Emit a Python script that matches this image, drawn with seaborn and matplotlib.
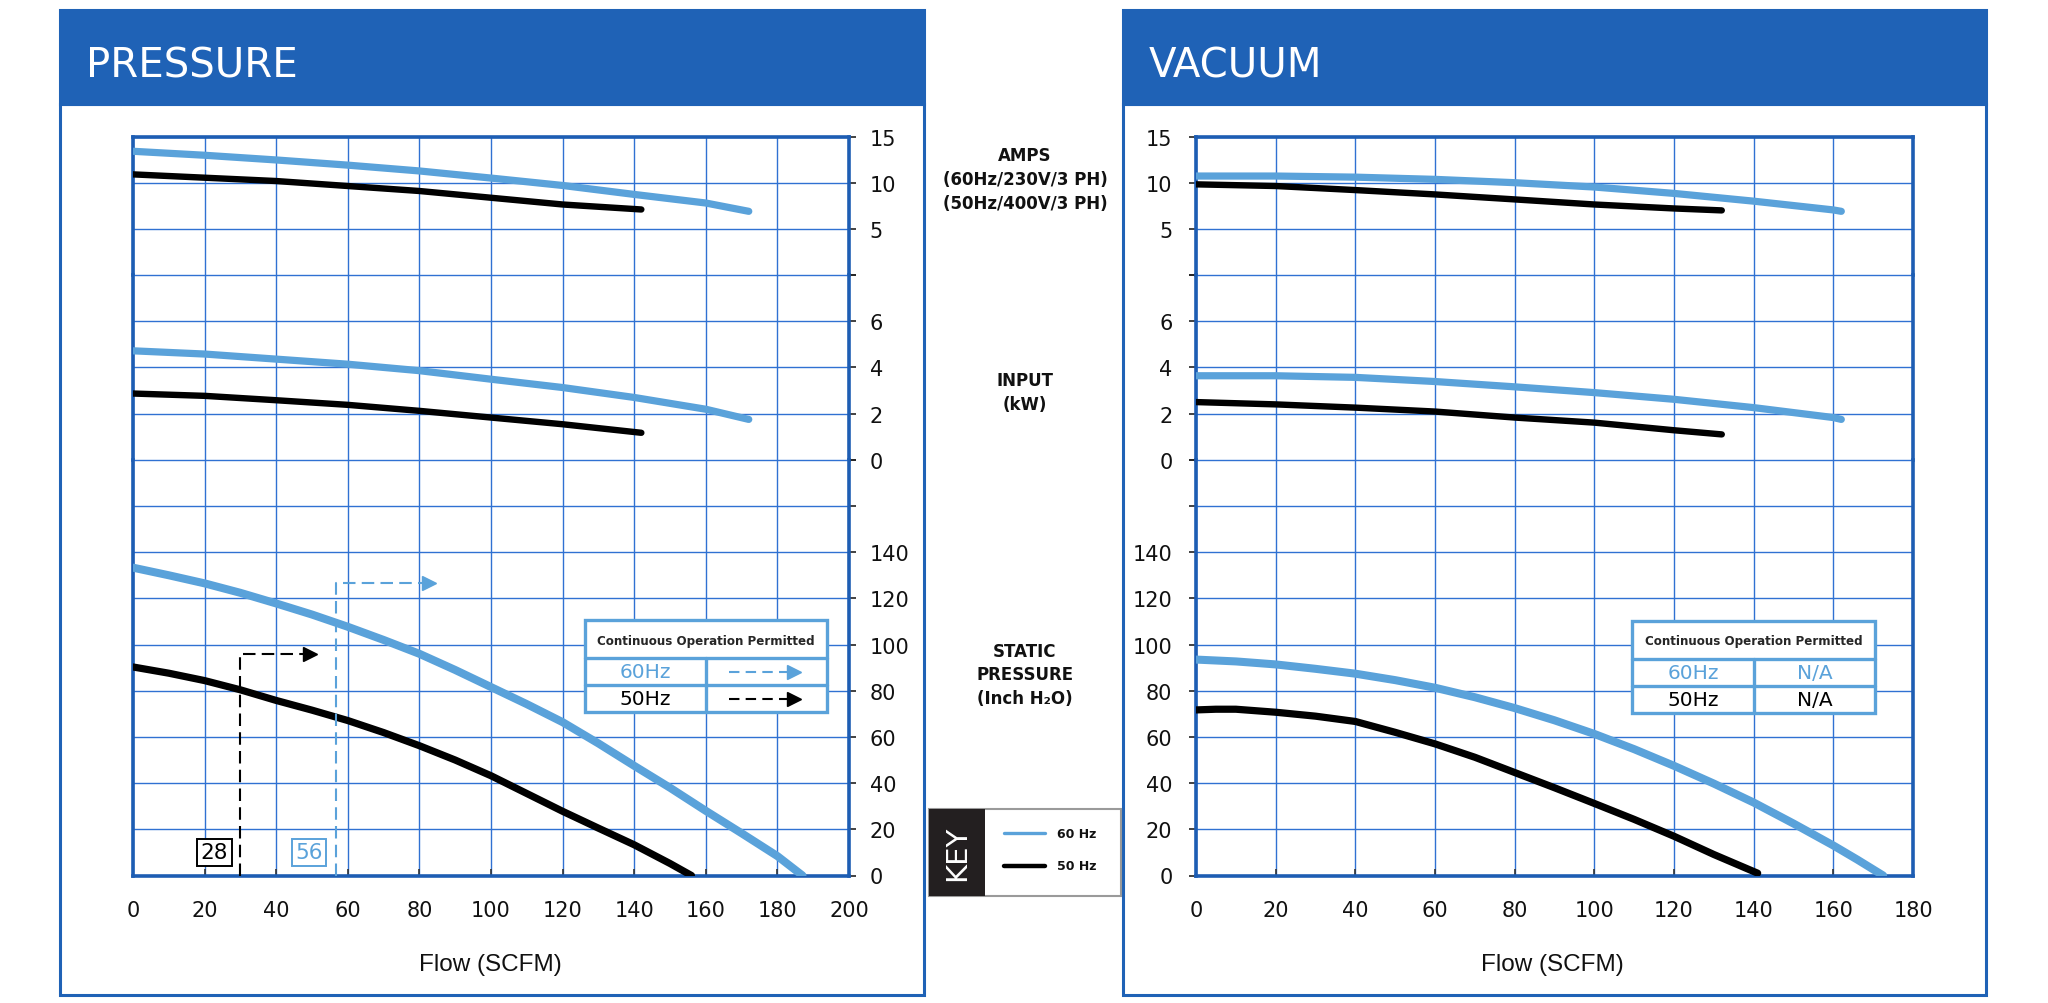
import matplotlib
matplotlib.use("Agg")
import matplotlib.pyplot as plt
import seaborn as sns
from matplotlib.patches import Rectangle
from matplotlib.lines import Line2D

# ---------------- data ----------------
# PRESSURE panel, flow in SCFM
pr_amps60_x = [0, 20, 40, 60, 80, 100, 120, 140, 160, 172]
pr_amps60_y = [13.4, 12.97, 12.46, 11.9, 11.27, 10.5, 9.7, 8.73, 7.8, 6.9]
pr_amps50_x = [0, 20, 40, 60, 80, 100, 120, 142]
pr_amps50_y = [10.9, 10.54, 10.18, 9.64, 9.1, 8.37, 7.64, 7.1]
pr_kw60_x = [0, 20, 40, 60, 80, 100, 120, 140, 160, 172]
pr_kw60_y = [4.72, 4.58, 4.36, 4.14, 3.86, 3.49, 3.13, 2.7, 2.19, 1.75]
pr_kw50_x = [0, 20, 40, 60, 80, 100, 120, 142]
pr_kw50_y = [2.87, 2.77, 2.58, 2.38, 2.12, 1.83, 1.54, 1.17]
pr_sp60_x = [0, 10, 20, 30, 40, 50, 60, 70, 80, 90, 100, 110, 120, 130,
             140, 150, 160, 170, 180, 187]
pr_sp60_y = [133.3, 130, 126.5, 122.4, 117.8, 113, 107.7, 102, 96, 89,
             81.6, 74.2, 66.4, 57.2, 47.5, 38, 28, 18.3, 8.4, 0]
pr_sp50_x = [0, 10, 20, 30, 40, 50, 60, 70, 80, 90, 100, 110, 120, 130,
             140, 150, 156]
pr_sp50_y = [90.3, 87.6, 84.4, 80.4, 75.8, 71.6, 67.1, 61.9, 56.2, 50, 43.2,
             35.5, 27.8, 20.5, 13.3, 5.2, 0]

# continuous-operation limits (pressure panel)
cont_labels = ["28", "56"]
cont_label_x = [22.8, 49.2]
cont_x = [30, 56.7]
cont_top = [96, 126.5]
cont_tip = [51, 84.3]

# VACUUM panel
vac_amps60_x = [0, 20, 40, 60, 80, 100, 120, 140, 160, 162]
vac_amps60_y = [10.72, 10.72, 10.6, 10.36, 10.0, 9.53, 8.84, 8.0, 7.05, 6.9]
vac_amps50_x = [0, 20, 40, 60, 80, 100, 120, 132]
vac_amps50_y = [9.82, 9.64, 9.2, 8.73, 8.19, 7.64, 7.21, 7.0]
vac_kw60_x = [0, 20, 40, 60, 80, 100, 120, 140, 160, 162]
vac_kw60_y = [3.64, 3.64, 3.57, 3.39, 3.16, 2.91, 2.62, 2.26, 1.83, 1.75]
vac_kw50_x = [0, 20, 40, 60, 80, 100, 120, 132]
vac_kw50_y = [2.5, 2.4, 2.26, 2.09, 1.83, 1.61, 1.28, 1.1]
vac_sp60_x = [0, 10, 20, 30, 40, 50, 60, 70, 80, 90, 100, 110, 120, 130,
              140, 150, 160, 166, 172.5]
vac_sp60_y = [93.5, 92.7, 91.4, 89.5, 87.4, 84.6, 81.3, 77.2, 72.5, 67.2,
              61.3, 54.7, 47.5, 39.8, 31.6, 22.5, 13, 6.9, 0]
vac_sp50_x = [0, 5, 10, 20, 30, 40, 50, 60, 70, 80, 90, 100, 110, 120, 130,
              141]
vac_sp50_y = [71.7, 72, 72, 70.7, 69, 66.7, 62, 57, 51.2, 44.6, 38, 31.2,
              24.3, 17, 9.1, 1]

amps_ticks = [0, 5, 10, 15]
amps_labels = ["", "5", "10", "15"]
kw_ticks = [0, 2, 4, 6, 8]
kw_labels = ["0", "2", "4", "6", ""]
sp_ticks = [0, 20, 40, 60, 80, 100, 120, 140, 160, 180]
sp_labels = ["0", "20", "40", "60", "80", "100", "120", "140", "", ""]

# ---------------- style ----------------
sns.set_theme(style="white")
plt.rcParams["font.family"] = ["DejaVu Sans"]

HEAD = "#1F62B6"
FRAME = "#1D5DB3"
GRID = "#3071D2"
LBLUE = "#5AA2DA"
BLACK = "#000000"

W, H = 2048, 1004
fig = plt.figure(figsize=(W / 100, H / 100), dpi=100)
fig.patch.set_facecolor("white")


def fx(px):
    return px / W


def fy(py):
    return 1 - py / H


def rect_px(x0, y0, x1, y1, **kw):
    r = Rectangle((fx(x0), fy(y1)), (x1 - x0) / W, (y1 - y0) / H,
                  transform=fig.transFigure, **kw)
    fig.add_artist(r)
    return r


def add_axes_px(x0, y0, x1, y1):
    return fig.add_axes([fx(x0), fy(y1), (x1 - x0) / W, (y1 - y0) / H])


# panel frames and headers
for (x0, x1, title) in [(60, 924, "PRESSURE"), (1123, 1986, "VACUUM")]:
    rect_px(x0, 105, x1, 996, fill=False, edgecolor=HEAD, lw=2.2, zorder=0)
    rect_px(x0, 11, x1, 105, facecolor=HEAD, edgecolor=HEAD, lw=2.2, zorder=0)
    fig.text(fx(x0 + 26), fy(77), title, color="white", fontsize=29,
             ha="left", va="baseline")

TOP, BOT = 137.5, 876.5
U = (BOT - TOP) / 16
Y_AMPS = (TOP, TOP + 3 * U)
Y_KW = (TOP + 3 * U, TOP + 7 * U)
Y_SP = (TOP + 7 * U, BOT)


def style_axes(ax, xmax, ticks, labels, side, kind):
    ax.set_xlim(0, xmax)
    ax.set_xticks(list(range(0, xmax + 1, 20)))
    ax.set_ylim(ticks[0], ticks[-1])
    ax.set_yticks(ticks)
    ax.set_yticklabels(labels)
    ax.set_xlabel("")
    ax.set_ylabel("")
    ax.grid(True, color=GRID, lw=1.0)
    ax.set_axisbelow(True)
    ax.set_facecolor("white")
    for s in ["left", "right"]:
        ax.spines[s].set_visible(True)
        ax.spines[s].set_color(FRAME)
        ax.spines[s].set_linewidth(2.6)
    ax.spines["top"].set_visible(kind == "amps")
    ax.spines["bottom"].set_visible(kind == "sp")
    ax.spines["top"].set_color(FRAME)
    ax.spines["top"].set_linewidth(2.6)
    ax.spines["bottom"].set_color(FRAME)
    ax.spines["bottom"].set_linewidth(2.6)
    if side == "right":
        ax.tick_params(axis="y", left=False, right=True, labelleft=False,
                       labelright=True, length=5, width=1.2, color="#222222",
                       pad=10, labelsize=15, labelcolor="#111111")
    else:
        ax.tick_params(axis="y", left=True, right=False, labelleft=True,
                       labelright=False, length=5, width=1.2, color="#222222",
                       pad=12, labelsize=15, labelcolor="#111111")
    if kind == "sp":
        ax.tick_params(axis="x", bottom=True, labelbottom=True, direction="in",
                       length=5, width=1.2, color="#333333", pad=18,
                       labelsize=15, labelcolor="#111111")
    else:
        ax.tick_params(axis="x", bottom=False, labelbottom=False)


def curve(ax, x, y, color, lw):
    sns.lineplot(x=x, y=y, ax=ax, color=color, lw=lw,
                 solid_capstyle="round", solid_joinstyle="round", zorder=3)


panels = [
    dict(x0=133, x1=849, xmax=200, side="right",
         amps=[(pr_amps60_x, pr_amps60_y), (pr_amps50_x, pr_amps50_y)],
         kw=[(pr_kw60_x, pr_kw60_y), (pr_kw50_x, pr_kw50_y)],
         sp=[(pr_sp60_x, pr_sp60_y), (pr_sp50_x, pr_sp50_y)],
         xlabel_x=490),
    dict(x0=1196, x1=1913, xmax=180, side="left",
         amps=[(vac_amps60_x, vac_amps60_y), (vac_amps50_x, vac_amps50_y)],
         kw=[(vac_kw60_x, vac_kw60_y), (vac_kw50_x, vac_kw50_y)],
         sp=[(vac_sp60_x, vac_sp60_y), (vac_sp50_x, vac_sp50_y)],
         xlabel_x=1552),
]

sp_axes = []
for p in panels:
    ax_a = add_axes_px(p["x0"], Y_AMPS[0], p["x1"], Y_AMPS[1])
    ax_k = add_axes_px(p["x0"], Y_KW[0], p["x1"], Y_KW[1])
    ax_s = add_axes_px(p["x0"], Y_SP[0], p["x1"], Y_SP[1])
    (x60, y60), (x50, y50) = p["amps"]
    curve(ax_a, x60, y60, LBLUE, 5.2)
    curve(ax_a, x50, y50, BLACK, 4.6)
    (x60, y60), (x50, y50) = p["kw"]
    curve(ax_k, x60, y60, LBLUE, 5.2)
    curve(ax_k, x50, y50, BLACK, 4.6)
    (x60, y60), (x50, y50) = p["sp"]
    curve(ax_s, x60, y60, LBLUE, 5.8)
    curve(ax_s, x50, y50, BLACK, 5.2)
    style_axes(ax_a, p["xmax"], amps_ticks, amps_labels, p["side"], "amps")
    style_axes(ax_k, p["xmax"], kw_ticks, kw_labels, p["side"], "kw")
    style_axes(ax_s, p["xmax"], sp_ticks, sp_labels, p["side"], "sp")
    fig.text(fx(p["xlabel_x"]), fy(965), "Flow (SCFM)", fontsize=17.5,
             ha="center", va="center", color="#111111",
             family=["Liberation Sans", "DejaVu Sans"])
    sp_axes.append(ax_s)

# dashed continuous-operation arrows on the pressure panel
ax_s = sp_axes[0]
for lab, lx, xv, top, tip, col in zip(cont_labels, cont_label_x, cont_x,
                                      cont_top, cont_tip, [BLACK, LBLUE]):
    ax_s.plot([xv, xv, tip - 2.5], [0, top, top], color=col, lw=1.5,
              dashes=(6, 3), zorder=4)
    ax_s.plot([tip - 1.6], [top], marker=">", ms=10, color=col,
              mec=col, zorder=4)
    ax_s.text(lx, 10, lab, ha="center", va="center", fontsize=15.5, color=col,
              zorder=5,
              bbox=dict(boxstyle="square,pad=0.16", fc="white", ec=col, lw=1.4))


# continuous operation tables
def draw_table(x0, x1, xs, y0, yt, ym, y1, right_cells):
    rect_px(x0, y0, x1, y1, facecolor="white", edgecolor=LBLUE, lw=2.4,
            zorder=5)
    for yy in (yt, ym):
        fig.add_artist(Line2D([fx(x0), fx(x1)], [fy(yy), fy(yy)],
                              transform=fig.transFigure, color=LBLUE,
                              lw=2.4, zorder=6))
    fig.add_artist(Line2D([fx(xs), fx(xs)], [fy(yt), fy(y1)],
                          transform=fig.transFigure, color=LBLUE, lw=2.4,
                          zorder=6))
    fig.text(fx((x0 + x1) / 2), fy((y0 + yt) / 2 + 1),
             "Continuous Operation Permitted", fontsize=8.6,
             fontweight="bold", ha="center", va="center", zorder=7)
    rows = [("60Hz", LBLUE, (yt + ym) / 2), ("50Hz", BLACK, (ym + y1) / 2)]
    for (lab, col, yc), cell in zip(rows, right_cells):
        fig.text(fx((x0 + xs) / 2), fy(yc), lab, fontsize=14.5, color=col,
                 ha="center", va="center", zorder=7)
        if cell == "arrow":
            fig.add_artist(Line2D([fx(xs + 23), fx(xs + 82)],
                                  [fy(yc), fy(yc)], transform=fig.transFigure,
                                  color=col, lw=1.5, dashes=(5, 3),
                                  zorder=7))
            fig.add_artist(Line2D([fx(xs + 88)], [fy(yc)],
                                  transform=fig.transFigure, marker=">",
                                  ms=10, color=col, mec=col, zorder=7))
        else:
            fig.text(fx((xs + x1) / 2), fy(yc), cell, fontsize=14.5,
                     color=col, ha="center", va="center", zorder=7)


draw_table(585, 827, 706, 621, 659, 686, 713, ["arrow", "arrow"])
draw_table(1632, 1875, 1754, 622, 660, 687, 714, ["N/A", "N/A"])

# center labels
CX = 1025
for txt, yy in [("AMPS", 156), ("(60Hz/230V/3 PH)", 180),
                ("(50Hz/400V/3 PH)", 204), ("INPUT", 381), ("(kW)", 405),
                ("STATIC", 652), ("PRESSURE", 675), ("(Inch H₂O)", 699)]:
    fig.text(fx(CX), fy(yy), txt, fontsize=12, fontweight="bold",
             ha="center", va="center", color="#111111")

# key box
rect_px(929, 810, 1121, 897, facecolor="white", edgecolor="#9A9A9A", lw=1.5,
        zorder=2)
rect_px(929, 810, 985, 897, facecolor="#231F20", edgecolor="#231F20", lw=0,
        zorder=3)
fig.text(fx(957), fy(853), "KEY", rotation=90, color="white", fontsize=21,
         ha="center", va="center", zorder=4)
for lab, col, yy, lw in [("60 Hz", LBLUE, 834, 2.4), ("50 Hz", BLACK, 867, 3.2)]:
    fig.add_artist(Line2D([fx(1004), fx(1045)], [fy(yy), fy(yy)],
                          transform=fig.transFigure, color=col, lw=lw,
                          zorder=4))
    fig.text(fx(1057), fy(yy), lab, fontsize=9, fontweight="bold",
             ha="left", va="center", color="#111111", zorder=4)

fig.savefig("out.png", dpi=100, facecolor="white")
